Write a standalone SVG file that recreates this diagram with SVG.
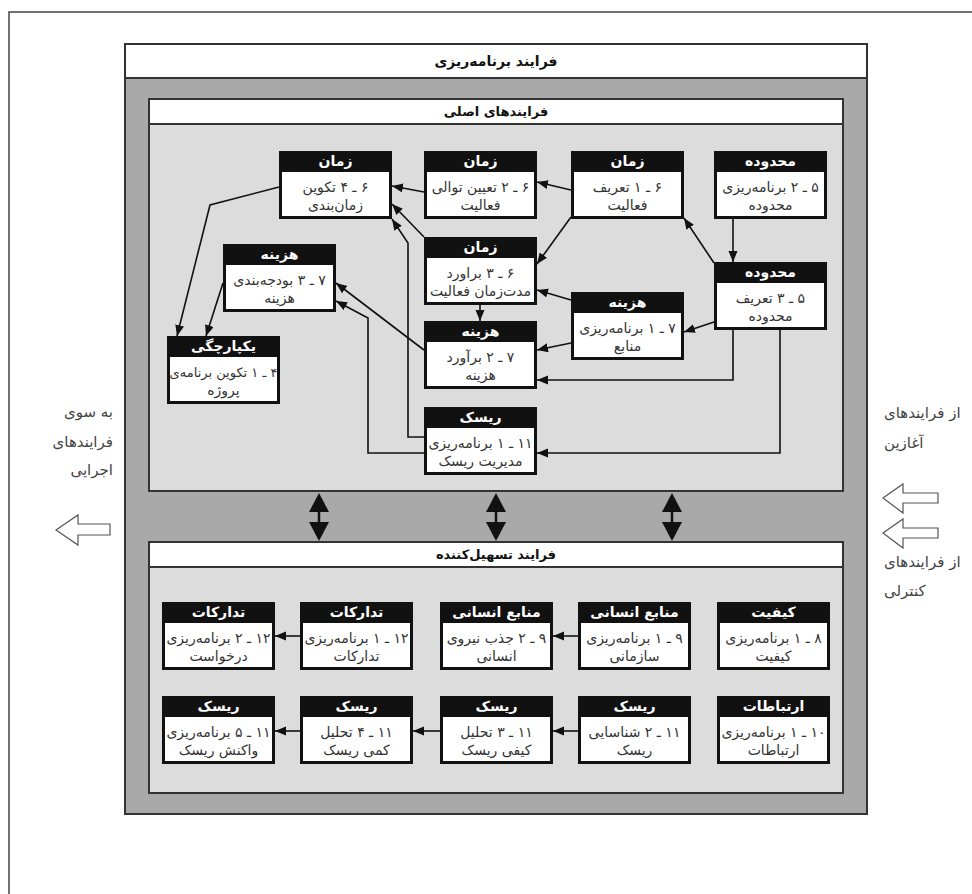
<svg xmlns="http://www.w3.org/2000/svg" width="972" height="894" viewBox="0 0 972 894">
<defs>
<marker id="ah" markerUnits="userSpaceOnUse" markerWidth="12" markerHeight="10" refX="11" refY="4.5" orient="auto">
<path d="M0,0 L11,4.5 L0,9 z" fill="#111"/>
</marker>
</defs>
<style>
.t{font-family:"DejaVu Sans",sans-serif;direction:rtl;text-anchor:middle}
.hd{font-size:14px;font-weight:bold;fill:#fff}
.bd{font-size:14px;fill:#333}
.ttl{font-size:14px;font-weight:bold;fill:#111}
.side{font-family:"DejaVu Sans",sans-serif;direction:rtl;font-size:15px;fill:#444}
.nb{fill:#111}
.nw{fill:#fff}
.cn{fill:none;stroke:#111;stroke-width:1.6;marker-end:url(#ah)}
.frame{fill:none;stroke:#444;stroke-width:1.5}
.box{stroke:#333;stroke-width:2}
.hollow{fill:#fff;stroke:#555;stroke-width:1.2}
</style>
<rect width="972" height="894" fill="#fff"/>
<path class="frame" d="M9,894 L9,12 L972,12"/>

<g id="planning">
<rect class="box" x="125" y="44" width="742" height="770" fill="#a9a9a9"/>
<rect class="box" x="125" y="44" width="742" height="34" fill="#fff"/>
<text class="t ttl" x="496" y="66">فرایند برنامه&#x200C;ریزی</text>
</g>

<g id="core">
<rect class="box" x="149" y="99" width="694" height="392" fill="#dcdcdc"/>
<rect class="box" x="149" y="99" width="694" height="25" fill="#fff"/>
<text class="t ttl" x="496" y="116" style="font-size:13px">فرایندهای اصلی</text>
</g>

<g id="facilitating">
<rect class="box" x="149" y="542" width="694" height="251" fill="#dcdcdc"/>
<rect class="box" x="149" y="542" width="694" height="25" fill="#fff"/>
<text class="t ttl" x="496" y="559" style="font-size:13px">فرایند تسهیل&#x200C;کننده</text>
</g>

<g id="n6-4"><rect class="nb" x="279" y="151" width="113" height="68"/><rect class="nw" x="282" y="172" width="107" height="44"/>
<text class="t hd" x="335.5" y="166">زمان</text><text class="t bd" x="335.5" y="192">۶ ـ ۴ تکوین</text><text class="t bd" x="335.5" y="210">زمان&#x200C;بندی</text></g>
<g id="n6-2"><rect class="nb" x="424" y="151" width="113" height="68"/><rect class="nw" x="427" y="172" width="107" height="44"/>
<text class="t hd" x="480.5" y="166">زمان</text><text class="t bd" x="480.5" y="192">۶ ـ ۲ تعیین توالی</text><text class="t bd" x="480.5" y="210">فعالیت</text></g>
<g id="n6-1"><rect class="nb" x="571" y="151" width="113" height="68"/><rect class="nw" x="574" y="172" width="107" height="44"/>
<text class="t hd" x="627.5" y="166">زمان</text><text class="t bd" x="627.5" y="192">۶ ـ ۱ تعریف</text><text class="t bd" x="627.5" y="210">فعالیت</text></g>
<g id="n5-2"><rect class="nb" x="714" y="151" width="113" height="68"/><rect class="nw" x="717" y="172" width="107" height="44"/>
<text class="t hd" x="770.5" y="166">محدوده</text><text class="t bd" x="770.5" y="192">۵ ـ ۲ برنامه&#x200C;ریزی</text><text class="t bd" x="770.5" y="210">محدوده</text></g>
<g id="n6-3"><rect class="nb" x="424" y="237" width="113" height="68"/><rect class="nw" x="427" y="258" width="107" height="44"/>
<text class="t hd" x="480.5" y="252">زمان</text><text class="t bd" x="480.5" y="278">۶ ـ ۳ براورد</text><text class="t bd" x="480.5" y="296">مدت&#x200C;زمان فعالیت</text></g>
<g id="n7-3"><rect class="nb" x="223" y="244" width="113" height="68"/><rect class="nw" x="226" y="265" width="107" height="44"/>
<text class="t hd" x="279.5" y="259">هزینه</text><text class="t bd" x="279.5" y="285">۷ ـ ۳ بودجه&#x200C;بندی</text><text class="t bd" x="279.5" y="303">هزینه</text></g>
<g id="n5-3"><rect class="nb" x="714" y="262" width="113" height="68"/><rect class="nw" x="717" y="283" width="107" height="44"/>
<text class="t hd" x="770.5" y="277">محدوده</text><text class="t bd" x="770.5" y="303">۵ ـ ۳ تعریف</text><text class="t bd" x="770.5" y="321">محدوده</text></g>
<g id="n7-1"><rect class="nb" x="571" y="292" width="113" height="68"/><rect class="nw" x="574" y="313" width="107" height="44"/>
<text class="t hd" x="627.5" y="307">هزینه</text><text class="t bd" x="627.5" y="333">۷ ـ ۱ برنامه&#x200C;ریزی</text><text class="t bd" x="627.5" y="351">منابع</text></g>
<g id="n7-2"><rect class="nb" x="424" y="321" width="113" height="68"/><rect class="nw" x="427" y="342" width="107" height="44"/>
<text class="t hd" x="480.5" y="336">هزینه</text><text class="t bd" x="480.5" y="362">۷ ـ ۲ برآورد</text><text class="t bd" x="480.5" y="380">هزینه</text></g>
<g id="n4-1"><rect class="nb" x="167" y="336" width="113" height="68"/><rect class="nw" x="170" y="357" width="107" height="44"/>
<text class="t hd" x="223.5" y="351">یکپارچگی</text><text class="t bd" x="223.5" y="377" style="font-size:13px">۴ ـ ۱ تکوین برنامه&#x200C;ی</text><text class="t bd" x="223.5" y="395">پروژه</text></g>
<g id="n11-1"><rect class="nb" x="424" y="407" width="113" height="68"/><rect class="nw" x="427" y="428" width="107" height="44"/>
<text class="t hd" x="480.5" y="422">ریسک</text><text class="t bd" x="480.5" y="448">۱۱ ـ ۱ برنامه&#x200C;ریزی</text><text class="t bd" x="480.5" y="466">مدیریت ریسک</text></g>

<g id="n8-1"><rect class="nb" x="717" y="602" width="113" height="68"/><rect class="nw" x="720" y="623" width="107" height="44"/>
<text class="t hd" x="773.5" y="617">کیفیت</text><text class="t bd" x="773.5" y="643">۸ ـ ۱ برنامه&#x200C;ریزی</text><text class="t bd" x="773.5" y="661">کیفیت</text></g>
<g id="n9-1"><rect class="nb" x="578" y="602" width="113" height="68"/><rect class="nw" x="581" y="623" width="107" height="44"/>
<text class="t hd" x="634.5" y="617">منابع انسانی</text><text class="t bd" x="634.5" y="643">۹ ـ ۱ برنامه&#x200C;ریزی</text><text class="t bd" x="634.5" y="661">سازمانی</text></g>
<g id="n9-2"><rect class="nb" x="440" y="602" width="113" height="68"/><rect class="nw" x="443" y="623" width="107" height="44"/>
<text class="t hd" x="496.5" y="617">منابع انسانی</text><text class="t bd" x="496.5" y="643">۹ ـ ۲ جذب نیروی</text><text class="t bd" x="496.5" y="661">انسانی</text></g>
<g id="n12-1"><rect class="nb" x="300" y="602" width="113" height="68"/><rect class="nw" x="303" y="623" width="107" height="44"/>
<text class="t hd" x="356.5" y="617">تدارکات</text><text class="t bd" x="356.5" y="643">۱۲ ـ ۱ برنامه&#x200C;ریزی</text><text class="t bd" x="356.5" y="661">تدارکات</text></g>
<g id="n12-2"><rect class="nb" x="162" y="602" width="113" height="68"/><rect class="nw" x="165" y="623" width="107" height="44"/>
<text class="t hd" x="218.5" y="617">تدارکات</text><text class="t bd" x="218.5" y="643">۱۲ ـ ۲ برنامه&#x200C;ریزی</text><text class="t bd" x="218.5" y="661">درخواست</text></g>

<g id="n10-1"><rect class="nb" x="717" y="696" width="113" height="68"/><rect class="nw" x="720" y="717" width="107" height="44"/>
<text class="t hd" x="773.5" y="711">ارتباطات</text><text class="t bd" x="773.5" y="737">۱۰ ـ ۱ برنامه&#x200C;ریزی</text><text class="t bd" x="773.5" y="755">ارتباطات</text></g>
<g id="n11-2"><rect class="nb" x="578" y="696" width="113" height="68"/><rect class="nw" x="581" y="717" width="107" height="44"/>
<text class="t hd" x="634.5" y="711">ریسک</text><text class="t bd" x="634.5" y="737">۱۱ ـ ۲ شناسایی</text><text class="t bd" x="634.5" y="755">ریسک</text></g>
<g id="n11-3"><rect class="nb" x="440" y="696" width="113" height="68"/><rect class="nw" x="443" y="717" width="107" height="44"/>
<text class="t hd" x="496.5" y="711">ریسک</text><text class="t bd" x="496.5" y="737">۱۱ ـ ۳ تحلیل</text><text class="t bd" x="496.5" y="755">کیفی ریسک</text></g>
<g id="n11-4"><rect class="nb" x="300" y="696" width="113" height="68"/><rect class="nw" x="303" y="717" width="107" height="44"/>
<text class="t hd" x="356.5" y="711">ریسک</text><text class="t bd" x="356.5" y="737">۱۱ ـ ۴ تحلیل</text><text class="t bd" x="356.5" y="755">کمی ریسک</text></g>
<g id="n11-5"><rect class="nb" x="162" y="696" width="113" height="68"/><rect class="nw" x="165" y="717" width="107" height="44"/>
<text class="t hd" x="218.5" y="711">ریسک</text><text class="t bd" x="218.5" y="737">۱۱ ـ ۵ برنامه&#x200C;ریزی</text><text class="t bd" x="218.5" y="755">واکنش ریسک</text></g>

<g id="connectors">
<path class="cn" d="M571,190 L537,182"/>
<path class="cn" d="M571,217 L537,264"/>
<path class="cn" d="M714,263 L684,218"/>
<path class="cn" d="M733,219 L733,262"/>
<path class="cn" d="M571,300 L537,290"/>
<path class="cn" d="M480,305 L480,321"/>
<path class="cn" d="M424,192 L392,186"/>
<path class="cn" d="M424,237 L392,204"/>
<path class="cn" d="M424,437 L408,437 L408,243 L392,219"/>
<path class="cn" d="M424,350 L336,283"/>
<path class="cn" d="M424,453 L368,453 L368,318 L336,301"/>
<path class="cn" d="M571,343 L537,350"/>
<path class="cn" d="M714,322 L684,332"/>
<path class="cn" d="M733,330 L733,380 L537,380"/>
<path class="cn" d="M780,330 L780,453 L537,453"/>
<path class="cn" d="M279,187 L210,205 L177,336"/>
<path class="cn" d="M223,283 L206,336"/>
<path class="cn" d="M578,636 L553,636"/>
<path class="cn" d="M300,636 L275,636"/>
<path class="cn" d="M578,731 L553,731"/>
<path class="cn" d="M440,731 L413,731"/>
<path class="cn" d="M300,731 L275,731"/>
<g fill="#111" stroke="#111" stroke-width="2.5">
<polygon points="309,512 319,493 329,512" stroke="none"/><line x1="319" y1="512" x2="319" y2="522"/><polygon points="309,522 319,541 329,522" stroke="none"/>
<polygon points="486,512 496,493 506,512" stroke="none"/><line x1="496" y1="512" x2="496" y2="522"/><polygon points="486,522 496,541 506,522" stroke="none"/>
<polygon points="662,512 672,493 682,512" stroke="none"/><line x1="672" y1="512" x2="672" y2="522"/><polygon points="662,522 672,541 682,522" stroke="none"/>
</g>
</g>

<g id="to-executing">
<text class="side" x="113" y="417" text-anchor="start">به سوی</text>
<text class="side" x="113" y="447" text-anchor="start">فرایندهای</text>
<text class="side" x="113" y="475" text-anchor="start">اجرایی</text>
<polygon class="hollow" points="56,530 78,515 78,524 110,524 110,535 78,535 78,545"/>
</g>
<g id="from-initiating">
<text class="side" x="884" y="418" text-anchor="end">از فرایندهای</text>
<text class="side" x="884" y="448" text-anchor="end">آغازین</text>
<polygon class="hollow" points="883,498 903,484 903,493 938,493 938,503 903,503 903,513"/>
</g>
<g id="from-control">
<polygon class="hollow" points="883,533 903,519 903,528 938,528 938,538 903,538 903,548"/>
<text class="side" x="884" y="567" text-anchor="end">از فرایندهای</text>
<text class="side" x="884" y="596" text-anchor="end">کنترلی</text>
</g>
</svg>
